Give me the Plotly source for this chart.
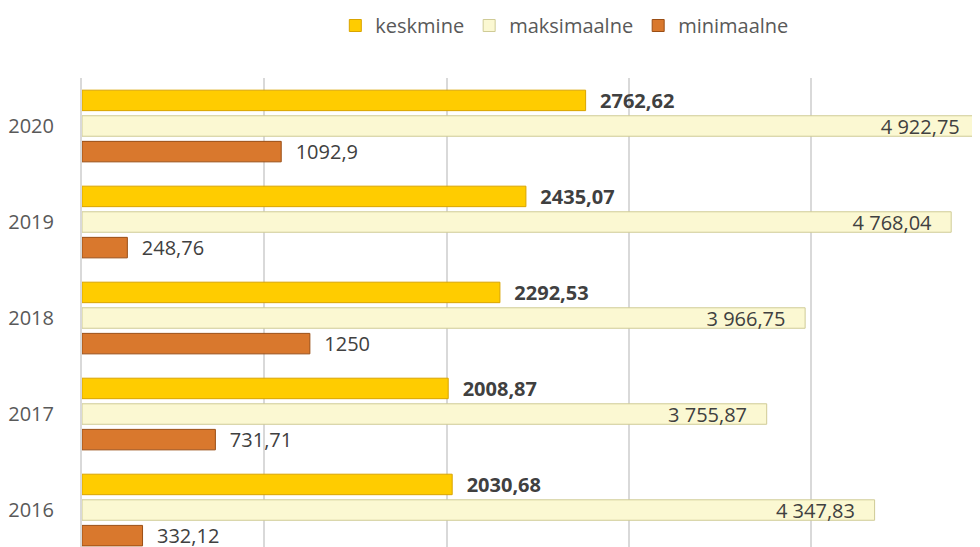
import plotly.graph_objects as go

years = ["2016", "2017", "2018", "2019", "2020"]
keskmine = [2030.68, 2008.87, 2292.53, 2435.07, 2762.62]
maksimaalne = [4347.83, 3755.87, 3966.75, 4768.04, 4922.75]
minimaalne = [332.12, 731.71, 1250, 248.76, 1092.9]
keskmine_labels = ["2030,68", "2008,87", "2292,53", "2435,07", "2762,62"]
maksimaalne_labels = ["4 347,83", "3 755,87", "3 966,75", "4 768,04", "4 922,75"]
minimaalne_labels = ["332,12", "731,71", "1250", "248,76", "1092,9"]

FONT = "Open Sans"
TXT = "#404040"
PAD = "\u2007"

fig = go.Figure()
fig.add_trace(go.Bar(
    name="minimaalne", y=years, x=minimaalne, orientation="h",
    marker=dict(color="#D9782D", line=dict(color="#9A4E15", width=1)),
    text=[PAD + t for t in minimaalne_labels], textposition="outside",
    textfont=dict(family=FONT, size=20, color=TXT),
    constraintext="none", textangle=0, cliponaxis=False,
    legendrank=3,
))
fig.add_trace(go.Bar(
    name="maksimaalne", y=years, x=maksimaalne, orientation="h",
    marker=dict(color="#FBF8D2", line=dict(color="#CFCB96", width=1)),
    text=[t + PAD + "\u00a0" for t in maksimaalne_labels], textposition="inside",
    insidetextanchor="end",
    insidetextfont=dict(family=FONT, size=20, color=TXT),
    constraintext="none", textangle=0, cliponaxis=False,
    legendrank=2,
))
fig.add_trace(go.Bar(
    name="keskmine", y=years, x=keskmine, orientation="h",
    marker=dict(color="#FFCC00", line=dict(color="#D9A400", width=1)),
    text=["<b>" + PAD + t + "</b>" for t in keskmine_labels], textposition="outside",
    textfont=dict(family=FONT, size=20, color=TXT),
    constraintext="none", textangle=0, cliponaxis=False,
    legendrank=1,
))

fig.update_layout(
    width=980, height=547,
    margin=dict(l=74, r=8, t=70, b=8, autoexpand=False),
    paper_bgcolor="white", plot_bgcolor="white",
    barmode="group", bargap=0.2, bargroupgap=0.2,
    font=dict(family=FONT, size=20, color="#595959"),
    showlegend=True,
    legend=dict(orientation="h", xref="container", x=0.334, xanchor="left",
                yref="container", y=0.968, yanchor="middle",
                font=dict(family=FONT, size=20, color="#595959"),
                traceorder="normal"),
    xaxis=dict(range=[0, 4926], dtick=1000, showgrid=True, gridcolor="#D9D9D9",
               gridwidth=1.5, showticklabels=False, zeroline=False,
               showline=False, ticks="", automargin=False),
    yaxis=dict(type="category", range=[-0.385, 4.5], showgrid=False,
               showline=True, linecolor="#D9D9D9", linewidth=2,
               ticks="outside", ticklen=22, tickcolor="rgba(0,0,0,0)",
               automargin=False,
               tickfont=dict(family=FONT, size=20, color="#595959")),
)

fig.write_html("out.html")
